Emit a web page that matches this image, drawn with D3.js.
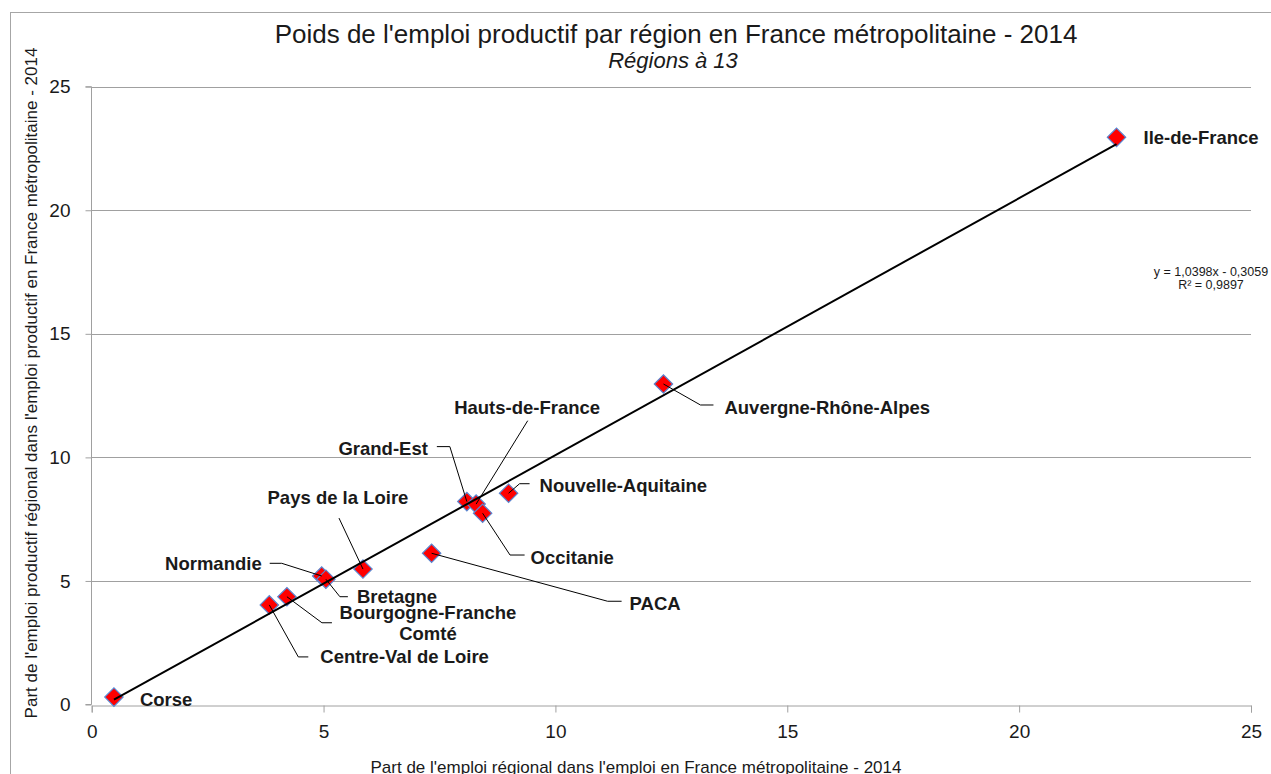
<!DOCTYPE html>
<html>
<head>
<meta charset="utf-8">
<script src="https://cdn.jsdelivr.net/npm/d3@7"></script>
<style>
  body { margin: 0; background: #fff; }
  svg { display: block; }
  text { font-family: "Liberation Sans", Arial, sans-serif; fill: #1a1a1a; }
</style>
</head>
<body>
<svg id="chart" width="1271" height="774"></svg>
<script>
// Regions (13-region map) and their shares, in %
const regions = [
  "Corse", "Centre-Val de Loire", "Bourgogne-Franche Comté", "Normandie", "Bretagne",
  "Pays de la Loire", "PACA", "Grand-Est", "Hauts-de-France", "Occitanie",
  "Nouvelle-Aquitaine", "Auvergne-Rhône-Alpes", "Ile-de-France"
];
// share of regional employment in total employment
const partEmploi = [0.48, 3.83, 4.21, 4.96, 5.05, 5.85, 7.33, 8.09, 8.29, 8.43, 8.99, 12.33, 22.10];
// share of regional productive employment in total productive employment
const partEmploiProductif = [0.30, 4.03, 4.36, 5.20, 5.07, 5.48, 6.12, 8.21, 8.11, 7.74, 8.55, 12.97, 22.95];

const xTicks = [0, 5, 10, 15, 20, 25];
const yTicks = [0, 5, 10, 15, 20, 25];

// linear trend shown on the chart
const trendSlope = 1.0398;
const trendIntercept = -0.3059;
const trendR2 = 0.9897;

const titleText = "Poids de l'emploi productif par région en France métropolitaine - 2014";
const subtitleText = "Régions à 13";
const xTitle = "Part de l'emploi régional dans l'emploi en France métropolitaine - 2014";
const yTitle = "Part de l'emploi productif régional dans l'emploi productif en France métropolitaine - 2014";

// Label placement: text offset from the marker (px), anchor, and leader polyline (px offsets)
const labelLayout = {
  "Corse":                   { dx: 26,  dy: 2,    anchor: "start",  leader: null },
  "Centre-Val de Loire":     { dx: 51,  dy: 52,   anchor: "start",  leader: [[0,0],[29,52],[39,52]] },
  "Bourgogne-Franche Comté": { dx: 141, dy: 16,   anchor: "middle", leader: [[0,0],[35,26],[45,26]], lines: ["Bourgogne-Franche", "Comté"], lineGap: 21 },
  "Normandie":               { dx: -60, dy: -12.7,anchor: "end",    leader: [[0,0],[-40,-12.7],[-52,-12.7]] },
  "Bretagne":                { dx: 31,  dy: 17,   anchor: "start",  leader: [[0,0],[14,17.5],[22,17.5]] },
  "Pays de la Loire":        { dx: -25, dy: -72,  anchor: "middle", leader: [[0,0],[-24,-51]] },
  "PACA":                    { dx: 198, dy: 50,   anchor: "start",  leader: [[0,0],[176,48],[190,48]] },
  "Grand-Est":               { dx: -39, dy: -53,  anchor: "end",    leader: [[0,0],[-17,-55],[-30,-55]] },
  "Hauts-de-France":         { dx: 51,  dy: -97,  anchor: "middle", leader: [[0,0],[51.6,-83.4]] },
  "Occitanie":               { dx: 48,  dy: 44,   anchor: "start",  leader: [[0,0],[27.4,41.8],[42,41.8]] },
  "Nouvelle-Aquitaine":      { dx: 31,  dy: -8,   anchor: "start",  leader: [[0,0],[11,-9.5],[21,-9.5]] },
  "Auvergne-Rhône-Alpes":    { dx: 61,  dy: 24,   anchor: "start",  leader: [[0,0],[37,21],[50,21]] },
  "Ile-de-France":           { dx: 27,  dy: 0,    anchor: "start",  leader: null }
};

const svg = d3.select("#chart");
const plot = { left: 91.7, right: 1251, top: 86.7, bottom: 704.5 };

const x = d3.scaleLinear().domain([0, 25]).range([plot.left, plot.right]);
const y = d3.scaleLinear().domain([0, 25]).range([plot.bottom, plot.top]);

const gridColor = "#a0a0a0";
const points = regions.map((name, i) => ({ name, x: partEmploi[i], y: partEmploiProductif[i] }));

// chart frame
svg.append("rect")
  .attr("x", 10.5).attr("y", 12.5).attr("width", 1400).attr("height", 900)
  .attr("fill", "none").attr("stroke", "#a6a6a6").attr("stroke-width", 1);

// horizontal gridlines
svg.append("g").selectAll("line").data(yTicks.filter(d => d > 0)).join("line")
  .attr("x1", plot.left).attr("x2", plot.right)
  .attr("y1", d => Math.round(y(d)) + 0.5).attr("y2", d => Math.round(y(d)) + 0.5)
  .attr("stroke", gridColor).attr("stroke-width", 1);

// axes
const xAxis = d3.axisBottom(x).tickValues(xTicks).tickSize(7).tickPadding(12).tickFormat(d3.format("d"));
const yAxis = d3.axisLeft(y).tickValues(yTicks).tickSize(6).tickPadding(15).tickFormat(d3.format("d"));

const gx = svg.append("g").attr("transform", `translate(0,${Math.round(plot.bottom) + 0.5})`).call(xAxis);
const gy = svg.append("g").attr("transform", `translate(${Math.round(plot.left) - 0.5},0)`).call(yAxis);
[gx, gy].forEach(g => {
  g.select(".domain").attr("stroke", gridColor);
  g.selectAll(".tick line").attr("stroke", gridColor);
  g.selectAll(".tick text").attr("fill", "#1a1a1a")
    .style("font-family", "\"Liberation Sans\", Arial, sans-serif");
});
gx.selectAll(".tick text").style("font-size", "19px");
gy.selectAll(".tick text").style("font-size", "19px");
gy.select(".domain").attr("d", `M-6,${y(25)}H0V${y(0)}H-6`);

// trendline across the data range
const xExtent = d3.extent(partEmploi);
const trendPts = xExtent.map(v => [x(v), y(trendSlope * v + trendIntercept)]);

// markers
const diamond = d3.symbol().type(d3.symbolSquare).size(13 * 13);
svg.append("g").selectAll("path").data(points).join("path")
  .attr("d", diamond)
  .attr("transform", d => `translate(${x(d.x)},${y(d.y)}) rotate(45)`)
  .attr("fill", "#ff0000")
  .attr("stroke", "#5b86d0").attr("stroke-width", 1.2);

svg.append("path")
  .attr("d", d3.line()(trendPts))
  .attr("fill", "none").attr("stroke", "#000").attr("stroke-width", 2);

// leader lines and data labels
const labels = svg.append("g");
points.forEach(p => {
  const L = labelLayout[p.name];
  const px = x(p.x), py = y(p.y);
  if (L.leader) {
    labels.append("path")
      .attr("d", d3.line()(L.leader.map(([a, b]) => [px + a, py + b])))
      .attr("fill", "none").attr("stroke", "#000").attr("stroke-width", 1);
  }
  const lines = L.lines || [p.name];
  lines.forEach((t, k) => {
    labels.append("text")
      .attr("x", px + L.dx)
      .attr("y", py + L.dy + k * (L.lineGap || 0))
      .attr("text-anchor", L.anchor)
      .attr("dominant-baseline", "central")
      .style("font-size", "18.5px").style("font-weight", "bold")
      .text(t);
  });
});

// titles
svg.append("text").attr("x", 676).attr("y", 43).attr("text-anchor", "middle")
  .style("font-size", "26px").text(titleText);
svg.append("text").attr("x", 673).attr("y", 68).attr("text-anchor", "middle")
  .style("font-size", "22px").style("font-style", "italic").text(subtitleText);

svg.append("text").attr("x", 636).attr("y", 773).attr("text-anchor", "middle")
  .style("font-size", "17px").text(xTitle);
svg.append("text").attr("transform", "translate(37,383) rotate(-90)").attr("text-anchor", "middle")
  .style("font-size", "17px").text(yTitle);

// trend equation
const fr = v => d3.format(".4f")(v).replace(".", ",");
svg.append("text").attr("x", 1211).attr("y", 276).attr("text-anchor", "middle")
  .style("font-size", "12.5px")
  .text(`y = ${fr(trendSlope)}x ${trendIntercept < 0 ? "-" : "+"} ${fr(Math.abs(trendIntercept))}`);
svg.append("text").attr("x", 1211).attr("y", 289).attr("text-anchor", "middle")
  .style("font-size", "12.5px")
  .text(`R² = ${fr(trendR2)}`);
</script>
</body>
</html>
